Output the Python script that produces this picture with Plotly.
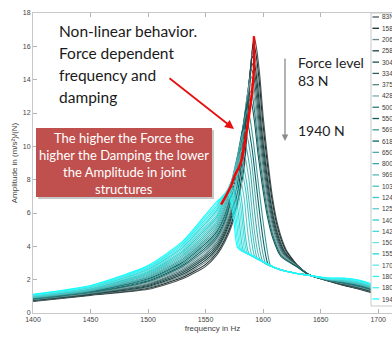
import plotly.graph_objects as go

# ---------------- data ----------------
force_labels = ["83N", "158N", "206N", "258N", "304N", "334N", "375N", "428N",
                "500N", "550N", "569N", "618N", "650N", "800N", "969N", "1030N",
                "1240N", "1250N", "1400N", "1420N", "1500N", "1550N", "1700N",
                "1800N", "1806N", "1940N"]

# low-frequency flank, shared frequencies
left_freqs = [1400, 1450, 1500, 1530, 1550, 1560]
left_amps = [
    [0.70, 1.06, 1.42, 2.05, 2.80, 3.50],
    [0.72, 1.08, 1.48, 2.14, 2.92, 3.63],
    [0.73, 1.10, 1.53, 2.23, 3.05, 3.76],
    [0.75, 1.12, 1.59, 2.32, 3.17, 3.88],
    [0.77, 1.14, 1.65, 2.41, 3.30, 4.01],
    [0.78, 1.17, 1.71, 2.50, 3.42, 4.14],
    [0.80, 1.19, 1.76, 2.59, 3.54, 4.27],
    [0.82, 1.21, 1.82, 2.68, 3.67, 4.40],
    [0.83, 1.23, 1.88, 2.77, 3.79, 4.52],
    [0.85, 1.26, 1.93, 2.86, 3.92, 4.65],
    [0.87, 1.28, 1.99, 2.95, 4.04, 4.78],
    [0.88, 1.30, 2.05, 3.04, 4.16, 4.91],
    [0.90, 1.32, 2.11, 3.13, 4.29, 5.04],
    [0.92, 1.35, 2.16, 3.22, 4.41, 5.16],
    [0.94, 1.37, 2.22, 3.31, 4.54, 5.29],
    [0.95, 1.40, 2.28, 3.40, 4.66, 5.42],
    [0.97, 1.42, 2.34, 3.49, 4.78, 5.55],
    [0.99, 1.45, 2.39, 3.58, 4.91, 5.68],
    [1.00, 1.47, 2.45, 3.67, 5.03, 5.80],
    [1.02, 1.50, 2.51, 3.76, 5.16, 5.93],
    [1.04, 1.52, 2.56, 3.85, 5.28, 6.06],
    [1.05, 1.55, 2.62, 3.94, 5.40, 6.19],
    [1.07, 1.57, 2.68, 4.03, 5.53, 6.32],
    [1.09, 1.60, 2.74, 4.12, 5.65, 6.44],
    [1.10, 1.62, 2.79, 4.21, 5.78, 6.57],
    [1.12, 1.65, 2.85, 4.30, 5.90, 6.70],
]

# resonance region (frequency, amplitude) for each force level
peak_segments = [
    [(1567, 4.3), (1574, 5.5), (1580, 7.3), (1584, 9.0), (1588, 13.0), (1590, 15.3), (1592, 16.6), (1594, 16.0), (1597, 14.3), (1600, 11.8), (1604, 9.2), (1608, 7.0), (1613, 5.2), (1620, 3.8), (1630, 2.85), (1640, 2.3)],
    [(1567, 4.45), (1574, 5.7), (1580, 7.6), (1584, 9.4), (1587.5, 13.0), (1589.5, 15.0), (1591.5, 16.2), (1593.5, 15.66), (1596.5, 14.0), (1599.5, 11.56), (1603.5, 9.03), (1607.5, 6.88), (1612.5, 5.12), (1619.5, 3.76), (1630, 2.84), (1640, 2.3)],
    [(1567, 4.6), (1574, 5.9), (1580, 7.9), (1583.5, 9.6), (1587, 12.9), (1589, 14.7), (1591, 15.8), (1593, 15.33), (1596, 13.71), (1599, 11.33), (1603, 8.85), (1607, 6.76), (1612, 5.05), (1619, 3.71), (1630, 2.83), (1640, 2.3)],
    [(1567, 4.75), (1574, 6.1), (1580, 8.2), (1583, 9.8), (1586.5, 12.8), (1588.5, 14.3), (1590.5, 15.4), (1592.5, 14.99), (1595.5, 13.41), (1598.5, 11.09), (1602.5, 8.68), (1606.5, 6.64), (1611.5, 4.97), (1618.5, 3.67), (1630, 2.82), (1640, 2.29)],
    [(1567, 4.9), (1574, 6.3), (1579, 8.1), (1582.5, 10.0), (1586, 12.7), (1588, 14.0), (1590, 15.0), (1592, 14.66), (1595, 13.12), (1598, 10.86), (1602, 8.51), (1606, 6.52), (1611, 4.89), (1618, 3.63), (1630, 2.81), (1640, 2.29)],
    [(1567, 5.05), (1574, 6.5), (1579, 8.4), (1582, 10.1), (1585.5, 12.6), (1587.5, 13.7), (1589.5, 14.6), (1591.5, 14.32), (1594.5, 12.82), (1597.5, 10.62), (1601.5, 8.34), (1605.5, 6.4), (1610.5, 4.82), (1617.5, 3.58), (1630, 2.8), (1640, 2.28)],
    [(1567, 5.2), (1574, 6.7), (1578, 8.3), (1581.5, 10.1), (1585, 12.4), (1587, 13.4), (1589, 14.2), (1591, 13.97), (1594, 12.52), (1597, 10.38), (1601, 8.16), (1605, 6.28), (1610, 4.74), (1617, 3.54), (1630, 2.79), (1640, 2.28)],
    [(1567, 5.35), (1574, 6.9), (1578, 8.6), (1581, 10.1), (1584.5, 12.2), (1586.5, 13.1), (1588.5, 13.8), (1590.5, 13.63), (1593.5, 12.22), (1596.5, 10.14), (1600.5, 7.98), (1604.5, 6.16), (1609.5, 4.66), (1616.5, 3.5), (1630, 2.78), (1640, 2.28)],
    [(1567, 5.5), (1573, 7.0), (1577, 8.5), (1580.5, 10.0), (1584, 11.9), (1586, 12.7), (1588, 13.3), (1590, 13.21), (1593, 11.85), (1596, 9.85), (1600, 7.77), (1604, 6.01), (1609, 4.56), (1616, 3.44), (1630, 2.76), (1640, 2.28)],
    [(1567, 5.65), (1573, 7.15), (1577, 8.75), (1580, 10.0), (1583.5, 11.6), (1585.5, 12.3), (1587.5, 12.8), (1589.5, 12.7), (1592.5, 11.48), (1595.5, 9.56), (1599.5, 7.55), (1603.5, 5.86), (1608.5, 4.47), (1615.5, 3.39), (1630, 2.74), (1640, 2.28)],
    [(1567, 5.8), (1573, 7.3), (1576, 8.5), (1579.5, 9.9), (1582.5, 11.2), (1584.5, 11.8), (1586.5, 12.2), (1588.5, 11.7), (1591.5, 10.3), (1606.4, 2.85), (1610, 2.72), (1620, 2.5), (1630, 2.36), (1640, 2.26)],
    [(1567, 5.95), (1572, 7.2), (1575.5, 8.5), (1578.5, 9.7), (1581.5, 10.8), (1583.5, 11.3), (1585.5, 11.6), (1587.5, 11.1), (1590.5, 9.8), (1604.3, 2.93), (1610, 2.72), (1620, 2.5), (1630, 2.36), (1640, 2.26)],
    [(1567, 6.1), (1572, 7.35), (1575, 8.5), (1578, 9.5), (1580.5, 10.3), (1582.5, 10.8), (1584.5, 11.0), (1586.5, 10.5), (1589.5, 9.3), (1602.1, 3.0), (1610, 2.72), (1620, 2.5), (1630, 2.36), (1640, 2.26)],
    [(1566, 6.1), (1571, 7.3), (1574, 8.3), (1577, 9.2), (1579.5, 9.8), (1581.5, 10.2), (1583.5, 10.4), (1585.5, 9.9), (1588.5, 8.7), (1599.7, 3.1), (1610, 2.72), (1620, 2.5), (1630, 2.36), (1640, 2.26)],
    [(1566, 6.2), (1570, 7.2), (1573, 8.0), (1576, 8.8), (1578.5, 9.3), (1580.5, 9.65), (1582.5, 9.8), (1584.5, 9.3), (1587.5, 8.1), (1597.3, 3.2), (1610, 2.72), (1620, 2.5), (1630, 2.36), (1640, 2.26)],
    [(1566, 6.35), (1570, 7.3), (1573, 8.0), (1575.5, 8.5), (1577.5, 8.9), (1579.5, 9.2), (1581, 9.3), (1583, 8.8), (1586, 7.7), (1594.9, 3.27), (1600, 3.08), (1610, 2.72), (1620, 2.5), (1630, 2.36), (1640, 2.26)],
    [(1566, 6.5), (1569.5, 7.3), (1572, 7.8), (1574.5, 8.3), (1576.5, 8.6), (1578.5, 8.85), (1580, 8.9), (1582, 8.4), (1585, 7.3), (1592.9, 3.35), (1600, 3.08), (1610, 2.72), (1620, 2.5), (1630, 2.36), (1640, 2.26)],
    [(1565, 6.5), (1568.5, 7.2), (1571, 7.6), (1573.5, 8.0), (1575.5, 8.3), (1577, 8.45), (1578.5, 8.5), (1580.5, 8.0), (1583.5, 6.9), (1590.4, 3.45), (1600, 3.08), (1610, 2.72), (1620, 2.5), (1630, 2.36), (1640, 2.26)],
    [(1565, 6.6), (1568, 7.2), (1570.5, 7.6), (1572.5, 7.9), (1574.5, 8.1), (1577, 8.2), (1579, 7.7), (1581.5, 6.7), (1587.8, 3.55), (1600, 3.08), (1610, 2.72), (1620, 2.5), (1630, 2.36), (1640, 2.26)],
    [(1565, 6.75), (1568, 7.25), (1570.5, 7.55), (1573, 7.8), (1576, 7.9), (1578, 7.4), (1580.5, 6.4), (1586.1, 3.6), (1592, 3.38), (1600, 3.08), (1610, 2.72), (1620, 2.5), (1630, 2.36), (1640, 2.26)],
    [(1565, 6.85), (1568, 7.3), (1571, 7.55), (1575, 7.7), (1577, 7.2), (1579.5, 6.2), (1584.6, 3.65), (1590, 3.45), (1600, 3.08), (1610, 2.72), (1620, 2.5), (1630, 2.36), (1640, 2.26)],
    [(1565, 6.95), (1568, 7.25), (1571, 7.45), (1574, 7.5), (1576, 7.0), (1578.5, 6.0), (1583.1, 3.7), (1590, 3.45), (1600, 3.08), (1610, 2.72), (1620, 2.5), (1630, 2.36), (1640, 2.26)],
    [(1565, 7.0), (1568, 7.25), (1573, 7.4), (1575, 6.9), (1577.5, 5.9), (1581.8, 3.75), (1590, 3.45), (1600, 3.08), (1610, 2.72), (1620, 2.5), (1630, 2.36), (1640, 2.26)],
    [(1564, 6.95), (1568, 7.2), (1572, 7.3), (1574, 6.8), (1576.5, 5.8), (1580.5, 3.8), (1590, 3.45), (1600, 3.08), (1610, 2.72), (1620, 2.5), (1630, 2.36), (1640, 2.26)],
    [(1564, 6.95), (1567.5, 7.15), (1571, 7.2), (1573, 6.7), (1575.5, 5.7), (1579.2, 3.85), (1590, 3.45), (1600, 3.08), (1610, 2.72), (1620, 2.5), (1630, 2.36), (1640, 2.26)],
    [(1565, 6.95), (1570, 7.1), (1572, 6.6), (1574.5, 5.6), (1578, 3.9), (1590, 3.45), (1600, 3.08), (1610, 2.72), (1620, 2.5), (1630, 2.36), (1640, 2.26)],
]

# high-frequency flank, shared frequencies
tail_freqs = [1655, 1670, 1685, 1700, 1715, 1730]
tail_amps = [
    [1.95, 1.65, 1.40, 1.10, 0.72, 0.45],
    [1.96, 1.67, 1.42, 1.12, 0.74, 0.47],
    [1.96, 1.69, 1.44, 1.14, 0.76, 0.49],
    [1.97, 1.70, 1.47, 1.16, 0.78, 0.50],
    [1.97, 1.72, 1.49, 1.18, 0.80, 0.52],
    [1.98, 1.74, 1.51, 1.20, 0.82, 0.54],
    [1.99, 1.76, 1.53, 1.22, 0.84, 0.56],
    [1.99, 1.78, 1.55, 1.24, 0.85, 0.58],
    [2.00, 1.79, 1.58, 1.26, 0.87, 0.59],
    [2.00, 1.81, 1.60, 1.28, 0.89, 0.61],
    [2.01, 1.83, 1.62, 1.30, 0.91, 0.63],
    [2.02, 1.85, 1.64, 1.32, 0.93, 0.65],
    [2.02, 1.87, 1.66, 1.34, 0.95, 0.67],
    [2.03, 1.88, 1.69, 1.36, 0.97, 0.68],
    [2.03, 1.90, 1.71, 1.38, 0.99, 0.70],
    [2.04, 1.92, 1.73, 1.40, 1.01, 0.72],
    [2.05, 1.94, 1.75, 1.42, 1.03, 0.74],
    [2.05, 1.96, 1.77, 1.44, 1.05, 0.76],
    [2.06, 1.97, 1.80, 1.46, 1.07, 0.77],
    [2.06, 1.99, 1.82, 1.48, 1.08, 0.79],
    [2.07, 2.01, 1.84, 1.50, 1.10, 0.81],
    [2.08, 2.03, 1.86, 1.52, 1.12, 0.83],
    [2.08, 2.05, 1.88, 1.54, 1.14, 0.85],
    [2.09, 2.06, 1.91, 1.56, 1.16, 0.86],
    [2.09, 2.08, 1.93, 1.58, 1.18, 0.88],
    [2.10, 2.10, 1.95, 1.60, 1.20, 0.90],
]

# hand-drawn red trend line (peak locus)
red_trace_f = [1592, 1592, 1589.2, 1585, 1580.5, 1575, 1572, 1563.5]
red_trace_a = [16.6, 14.6, 12.6, 10.6, 9.0, 8.2, 7.6, 6.5]

x_ticks = [1400, 1450, 1500, 1550, 1600, 1650, 1700]
y_ticks = [0, 2, 4, 6, 8, 10, 12, 14, 16, 18]

headline_lines = ["Non-linear behavior.", "Force dependent", "frequency and", "damping"]
box_lines = ["The higher the Force the", "higher the Damping the lower",
             "the Amplitude in joint", "structures"]

# ---------------- styles ----------------
line_colors = ["#4a5656", "#1c2a2a", "#6a8888", "#1c3c3c", "#1f4f4f", "#3a5e5e",
               "#5a8282", "#7eaaaa", "#2e7878", "#0f5a5a", "#3c9a9a", "#0a6464",
               "#50a8a8", "#3aa8a8", "#58b8b8", "#48c0c0", "#38c8c8", "#5ccaca",
               "#28d0d0", "#48d8d8", "#70e0e0", "#20dada", "#60e8e8", "#30eeee",
               "#40f2f2", "#10ffff"]

W, H = 392, 339
ML, MR, MT, MB = 33, 0, 13, 26
PW, PH = W - ML - MR, H - MT - MB
CAL = "Lato, Open Sans, sans-serif"


def pxx(x):
    return (x - ML) / PW


def pxy(y):
    return (H - MB - y) / PH


fig = go.Figure()

for i, label in enumerate(force_labels):
    xs = list(left_freqs) + [p[0] for p in peak_segments[i]] + list(tail_freqs)
    ys = list(left_amps[i]) + [p[1] for p in peak_segments[i]] + list(tail_amps[i])
    fig.add_trace(go.Scatter(
        x=xs, y=ys, mode="lines", name=label, showlegend=False,
        line=dict(color=line_colors[i], width=1.1, shape="spline", smoothing=0.6),
        hoverinfo="skip"))

fig.add_trace(go.Scatter(
    x=red_trace_f, y=red_trace_a, mode="lines", showlegend=False,
    line=dict(color="#ff0000", width=2.4, shape="spline", smoothing=0.8),
    hoverinfo="skip"))

shapes = []
annotations = []

# red explanatory box with shadow
shapes.append(dict(type="rect", xref="paper", yref="paper", layer="above",
                   x0=pxx(38), x1=pxx(214), y0=pxy(199), y1=pxy(130),
                   fillcolor="rgba(0,0,0,0.22)", line=dict(width=0)))
shapes.append(dict(type="rect", xref="paper", yref="paper", layer="above",
                   x0=pxx(36), x1=pxx(212), y0=pxy(197), y1=pxy(128),
                   fillcolor="#c0504d", line=dict(width=0)))
for j, txt in enumerate(box_lines):
    annotations.append(dict(
        xref="paper", yref="paper", x=pxx(124), y=pxy(137.5 + j * 17), xanchor="center",
        yanchor="middle", text=txt, showarrow=False,
        font=dict(family=CAL, size=13, color="#ffffff")))

for j, txt in enumerate(headline_lines):
    annotations.append(dict(
        xref="paper", yref="paper", x=pxx(57), y=pxy(31.5 + j * 21.7), xanchor="left",
        yanchor="middle", text=txt, showarrow=False,
        font=dict(family=CAL, size=15.5, color="#1a1a1a")))

# red arrow
annotations.append(dict(
    xref="paper", yref="paper", x=pxx(234), y=pxy(129), text="", showarrow=True,
    ax=168 - 234, ay=77 - 129, axref="pixel", ayref="pixel",
    arrowcolor="#e81010", arrowwidth=1.8, arrowhead=2, arrowsize=1.0))

# grey force-level arrow
annotations.append(dict(
    xref="paper", yref="paper", x=pxx(285), y=pxy(141), text="", showarrow=True,
    ax=0, ay=57 - 141, axref="pixel", ayref="pixel",
    arrowcolor="#8a8a8a", arrowwidth=1.3, arrowhead=2, arrowsize=1.0))

for txt, yc in (("Force level", 63), ("83 N", 80), ("1940 N", 130)):
    annotations.append(dict(
        xref="paper", yref="paper", x=pxx(296), y=pxy(yc), xanchor="left", yanchor="middle",
        text=txt, showarrow=False,
        font=dict(family=CAL, size=14, color="#222222")))

# legend drawn as a box with entries (partly outside the visible picture, as in the reference)
shapes.append(dict(type="rect", xref="paper", yref="paper", layer="above",
                   x0=pxx(371), x1=pxx(410), y0=pxy(306), y1=pxy(13),
                   fillcolor="#ffffff", line=dict(color="#c8c8c8", width=1)))
for k, label in enumerate(force_labels):
    yy = 17.0 + k * 11.28
    shapes.append(dict(type="line", xref="paper", yref="paper", layer="above",
                       x0=pxx(372.5), x1=pxx(379), y0=pxy(yy), y1=pxy(yy),
                       line=dict(color=line_colors[k], width=1.3)))
    annotations.append(dict(
        xref="paper", yref="paper", x=pxx(379.5), y=pxy(yy), xanchor="left", yanchor="middle",
        text=label, showarrow=False,
        font=dict(family="Liberation Sans, Arial, sans-serif", size=6.5, color="#3a3a3a")))

axis_font = dict(family="Liberation Sans, Arial, sans-serif", size=7, color="#444444")

fig.update_layout(
    width=W, height=H,
    margin=dict(l=ML, r=MR, t=MT, b=MB, pad=0, autoexpand=False),
    paper_bgcolor="#ffffff", plot_bgcolor="#ffffff",
    showlegend=False,
    shapes=shapes, annotations=annotations,
    xaxis=dict(range=[1400, 1712], tickvals=x_ticks, ticks="inside", ticklen=4,
               tickcolor="#b4b4b4", showline=True, linecolor="#c8c8c8", linewidth=1,
               mirror="ticks", showgrid=False, zeroline=False, tickfont=axis_font,
               automargin=False,
               title=dict(text="frequency in Hz", standoff=2,
                          font=dict(family="Liberation Sans, Arial, sans-serif", size=8, color="#444444"))),
    yaxis=dict(range=[0, 18], tickvals=y_ticks, ticks="inside", ticklen=4,
               tickcolor="#b4b4b4", showline=True, linecolor="#c8c8c8", linewidth=1,
               showgrid=False, zeroline=False, tickfont=axis_font,
               automargin=False,
               title=dict(text="Amplitude in (m/s²)/(N)", standoff=4,
                          font=dict(family="Liberation Sans, Arial, sans-serif", size=8, color="#444444"))),
)

fig.write_html(
    "out.html",
    config={"displayModeBar": False},
    post_script="document.body.style.margin='0';document.body.style.overflow='hidden';",
)
